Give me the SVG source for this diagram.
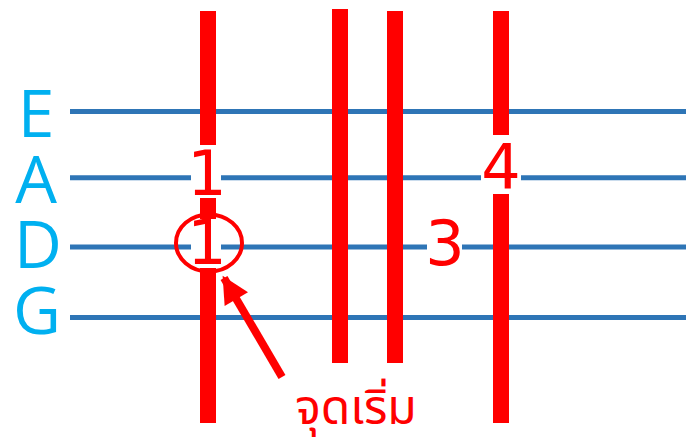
<svg xmlns="http://www.w3.org/2000/svg" width="686" height="440" viewBox="0 0 686 440">
<defs>
<style>
.str{stroke:#2E75B6;stroke-width:5;fill:none}
.bar{fill:#FF0000}
.lab{font-family:"Open Sans","Noto Sans","DejaVu Sans",sans-serif;font-size:66px;fill:#00B0F0;text-anchor:middle}
.num{font-family:"DejaVu Sans","Noto Sans",sans-serif;font-size:62px;fill:#FF0000;text-anchor:middle}
.mask{fill:#FFFFFF}
.thai{font-family:"Noto Sans Thai","Noto Sans","Tahoma","DejaVu Sans",sans-serif;font-size:48px;fill:#FF0000;text-anchor:middle}
</style>
<marker id="ah" viewBox="0 0 10 10" refX="9" refY="5" markerWidth="3.6" markerHeight="3.4" orient="auto" markerUnits="strokeWidth">
<path d="M0,0 L10,5 L0,10 Z" fill="#FF0000"/>
</marker>
</defs>
<g id="strings">
<line class="str" x1="70" y1="111.5" x2="686" y2="111.5"/>
<line class="str" x1="70" y1="177.7" x2="686" y2="177.7"/>
<line class="str" x1="70" y1="247" x2="686" y2="247"/>
<line class="str" x1="70" y1="317.5" x2="686" y2="317.5"/>
</g>
<g id="labels">
<text class="lab" x="36" y="137">E</text>
<text class="lab" x="36" y="203">A</text>
<text class="lab" x="38" y="268">D</text>
<text class="lab" x="37" y="334">G</text>
</g>
<g id="bars">
<rect class="bar" x="200" y="11" width="16" height="412"/>
<rect class="bar" x="332" y="9" width="16" height="354"/>
<rect class="bar" x="387" y="11" width="16" height="352"/>
<rect class="bar" x="493" y="11" width="16" height="412"/>
</g>
<g id="note-1a">
<rect class="mask" x="191" y="145" width="30" height="53"/>
<text class="num" x="207" y="195">1</text>
</g>
<g id="note-1d">
<rect class="mask" x="191" y="219" width="30" height="49"/>
<text class="num" x="207" y="264">1</text>
<ellipse cx="209" cy="243" rx="33" ry="28.5" fill="none" stroke="#FF0000" stroke-width="4"/>
</g>
<g id="note-4">
<rect class="mask" x="481" y="135" width="40" height="59"/>
<text class="num" x="501" y="189">4</text>
</g>
<g id="note-3">
<rect class="mask" x="427" y="215" width="35" height="53"/>
<text class="num" x="445" y="265">3</text>
</g>
<g id="connectors">
<line x1="282" y1="377" x2="224" y2="278" stroke="#FF0000" stroke-width="8" marker-end="url(#ah)"/>
</g>
<g id="start-label">
<text class="thai" x="356" y="424">จุดเริ่ม</text>
</g>
</svg>
